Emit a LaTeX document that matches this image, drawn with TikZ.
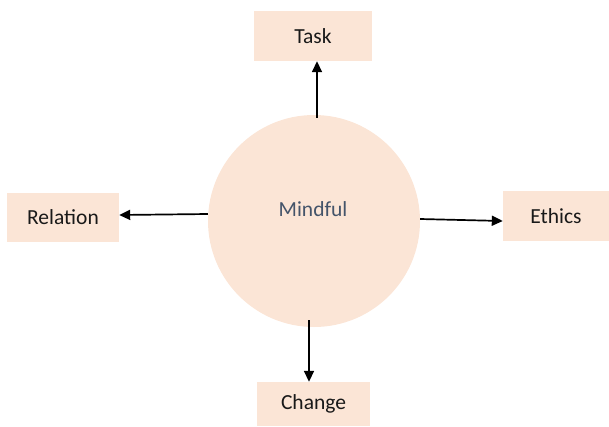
\documentclass[tikz,border=0pt]{standalone}
\usepackage{fontspec}
\setmainfont{Carlito}
\usetikzlibrary{arrows.meta}
\definecolor{peach}{HTML}{FBE5D6}
\definecolor{slate}{HTML}{44546A}
\tikzset{
  box/.style={fill=peach, draw=none, inner sep=0pt, font=\fontsize{21.5}{26}\selectfont, text=black!90},
  arr/.style={line width=1.7pt, -{Triangle[length=11pt,width=10pt]}},
}
\begin{document}
\begin{tikzpicture}[x=1pt,y=1pt]
\useasboundingbox (0,0) rectangle (609,-426);
\node[circle, fill=peach, minimum size=212pt, inner sep=0pt] (mind) at (314,-221) {};
\node[font=\fontsize{21.5}{26}\selectfont, text=slate] (mlabel) at (313,-209) {Mindful};
\node[box, minimum width=118pt, minimum height=50pt] (task) at (313,-36) {Task};
\node[box, minimum width=112pt, minimum height=49pt] (relation) at (63,-217.5) {Relation};
\node[box, minimum width=106pt, minimum height=50pt] (ethics) at (556,-216) {Ethics};
\node[box, minimum width=113pt, minimum height=44pt] (change) at (313.5,-404) {Change};
\draw[arr] ([xshift=3pt,yshift=-3pt]mind.north) -- ([xshift=4pt]task.south);
\draw[arr] ([yshift=7pt]mind.west) -- ([yshift=2.5pt]relation.east);
\draw[arr] ([yshift=2pt]mind.east) -- ([yshift=-5pt]ethics.west);
\draw[arr] ([xshift=-5pt,yshift=7pt]mind.south) -- ([xshift=-4.5pt]change.north);
\end{tikzpicture}
\end{document}
